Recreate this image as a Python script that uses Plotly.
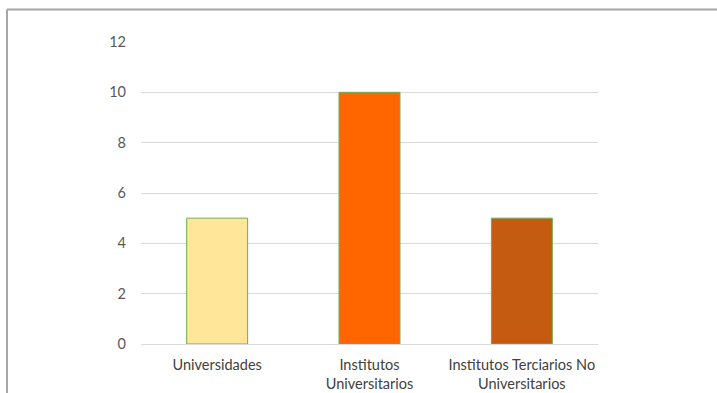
import plotly.graph_objects as go

# Number of institutions by type
categories = [
    "Universidades",
    "Institutos<br>Universitarios",
    "Institutos Terciarios No<br>Universitarios",
]
values = [5, 10, 5]
bar_colors = ["#FFE699", "#FF6600", "#C55A11"]
y_ticks = [0, 2, 4, 6, 8, 10, 12]

W, H = 717, 393
L, R, T, B = 141, 119, 42, 49
plot_w = W - L - R
plot_h = H - T - B

fig = go.Figure(
    go.Bar(
        x=categories,
        y=values,
        marker=dict(color=bar_colors, line=dict(color="#70AD47", width=1)),
        hoverinfo="x+y",
    )
)

# Thin gray frame around the chart area (left and top edges visible)
frame_x = (7 - L) / plot_w
frame_y = 1 + (T - 9.5) / plot_h
fig.add_shape(type="line", xref="paper", yref="paper",
              x0=frame_x, x1=(W + 5 - L) / plot_w, y0=frame_y, y1=frame_y,
              line=dict(color="#A6A6A6", width=2))
fig.add_shape(type="line", xref="paper", yref="paper",
              x0=frame_x, x1=frame_x, y0=frame_y, y1=-(B + 5) / plot_h,
              line=dict(color="#A6A6A6", width=2))

fig.update_layout(
    width=W,
    height=H,
    margin=dict(l=L, r=R, t=T, b=B, pad=0, autoexpand=False),
    paper_bgcolor="white",
    plot_bgcolor="white",
    bargap=0.6,
    showlegend=False,
    font=dict(family="Lato, Open Sans, sans-serif", size=14, color="#595959"),
    xaxis=dict(
        showgrid=False,
        showline=True,
        linecolor="#D9D9D9",
        linewidth=1,
        ticks="",
        tickfont=dict(size=14.5, color="#404040"),
        ticklabelstandoff=8,
        automargin=False,
        fixedrange=True,
    ),
    yaxis=dict(
        range=[0, 12],
        tickvals=y_ticks,
        showgrid=True,
        gridcolor="#D9D9D9",
        gridwidth=1,
        zeroline=False,
        showline=False,
        ticks="",
        ticklabelstandoff=14,
        tickfont=dict(size=14.5, color="#595959"),
        automargin=False,
        fixedrange=True,
    ),
)

fig.write_html("out.html")
